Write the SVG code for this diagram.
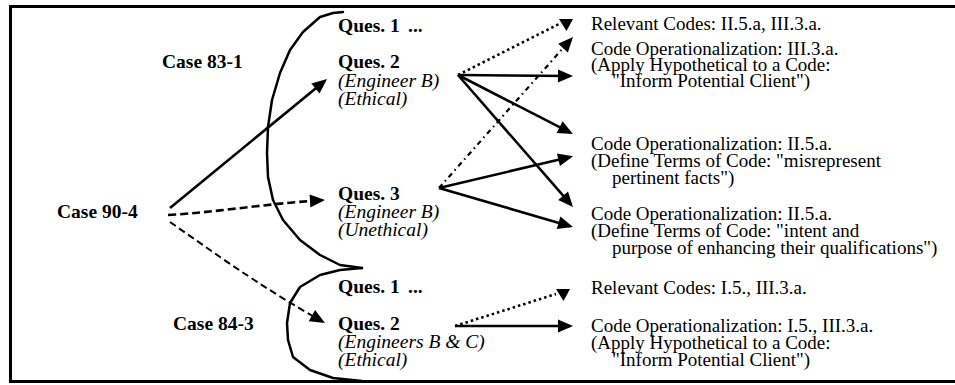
<svg xmlns="http://www.w3.org/2000/svg" width="955" height="385" viewBox="0 0 955 385">
  <style>
    text { font-family: "Liberation Serif", "Times New Roman", serif; fill: #000; }
    .b { font-weight: bold; font-size: 19.5px; }
    .i { font-style: italic; font-size: 19.5px; }
    .r { font-size: 19px; }
    .frame { fill: none; stroke: #000; stroke-width: 3; }
    .brace { fill: none; stroke: #000; stroke-width: 2.5; stroke-linejoin: round; stroke-linecap: round; }
    .solid { fill: none; stroke: #000; stroke-width: 2.6; marker-end: url(#head); }
    .dash { fill: none; stroke: #000; stroke-width: 2.6; stroke-dasharray: 8 4; marker-end: url(#head); }
    .dash-thin { fill: none; stroke: #000; stroke-width: 2; stroke-dasharray: 7 4; marker-end: url(#head); }
    .dot { fill: none; stroke: #000; stroke-width: 2.6; stroke-dasharray: 2.5 3; marker-end: url(#drop); }
    .dashdot { fill: none; stroke: #000; stroke-width: 2.2; stroke-dasharray: 5 4 1.5 4; marker-end: url(#head); }
  </style>
  <defs>
    <marker id="head" markerUnits="userSpaceOnUse" markerWidth="16" markerHeight="14" refX="12" refY="6.5" orient="auto" overflow="visible">
      <path d="M0,0 L15,6.5 L0,13 z" fill="#000"/>
    </marker>
    <marker id="drop" markerUnits="userSpaceOnUse" markerWidth="16" markerHeight="14" refX="0" refY="0" orient="0" overflow="visible">
      <path d="M0,-5 L14,-5 L7.5,7 z" fill="#000"/>
    </marker>
  </defs>

  <!-- outer frame; its right edge runs past the page -->
  <rect class="frame" x="10.5" y="6.5" width="950" height="375"/>

  <!-- case brackets -->
  <g id="bracket-83-1">
    <polyline class="brace" points="343,12 333,13 320,17 303,32 290,50 280,73 272,100 268,127 267,153 268,177 273,200 283,220 300,240 320,255 340,265 362,268"/>
  </g>
  <g id="bracket-84-3">
    <polyline class="brace" points="362,268 340,270 320,275 300,287 290,303 287,323 288,340 293,357 310,370 333,378 362,381"/>
  </g>

  <!-- cases -->
  <g id="case-90-4"><text class="b" x="57" y="218">Case 90-4</text></g>
  <g id="case-83-1"><text class="b" x="162" y="68">Case 83-1</text></g>
  <g id="case-84-3"><text class="b" x="173" y="330">Case 84-3</text></g>

  <!-- questions -->
  <g id="q83-1">
    <text class="b" x="338" y="32">Ques. 1<tspan x="408">...</tspan></text>
  </g>
  <g id="q83-2">
    <text class="b" x="338" y="68">Ques. 2</text>
    <text class="i" x="338" y="86.5">(Engineer B)</text>
    <text class="i" x="338" y="105">(Ethical)</text>
  </g>
  <g id="q90-3">
    <text class="b" x="338" y="200">Ques. 3</text>
    <text class="i" x="338" y="218">(Engineer B)</text>
    <text class="i" x="338" y="236">(Unethical)</text>
  </g>
  <g id="q84-1">
    <text class="b" x="338" y="293">Ques. 1<tspan x="408">...</tspan></text>
  </g>
  <g id="q84-2">
    <text class="b" x="338" y="330">Ques. 2</text>
    <text class="i" x="338" y="348">(Engineers B &amp; C)</text>
    <text class="i" x="338" y="366">(Ethical)</text>
  </g>

  <!-- code references -->
  <g id="codes-83-1">
    <text class="r" x="591" y="30">Relevant Codes: II.5.a, III.3.a.</text>
  </g>
  <g id="op-83-1">
    <text class="r" x="591" y="55">Code Operationalization: III.3.a.</text>
    <text class="r" x="591" y="71">(Apply Hypothetical to a Code:</text>
    <text class="r" x="612" y="87">"Inform Potential Client")</text>
  </g>
  <g id="op-misrepresent">
    <text class="r" x="591" y="150">Code Operationalization: II.5.a.</text>
    <text class="r" x="591" y="167">(Define Terms of Code: "misrepresent</text>
    <text class="r" x="612" y="184">pertinent facts")</text>
  </g>
  <g id="op-intent">
    <text class="r" x="591" y="220">Code Operationalization: II.5.a.</text>
    <text class="r" x="591" y="237">(Define Terms of Code: "intent and</text>
    <text class="r" x="612" y="254">purpose of enhancing their qualifications")</text>
  </g>
  <g id="codes-84-3">
    <text class="r" x="591" y="294">Relevant Codes: I.5., III.3.a.</text>
  </g>
  <g id="op-84-3">
    <text class="r" x="591" y="332">Code Operationalization: I.5., III.3.a.</text>
    <text class="r" x="591" y="349">(Apply Hypothetical to a Code:</text>
    <text class="r" x="612" y="366">"Inform Potential Client")</text>
  </g>

  <!-- connectors -->
  <g id="connectors">
    <path class="solid" d="M170,208 L324.7,80.9"/>
    <path class="dash" d="M168,215 C220,212 262,204 322,200.2"/>
    <path class="dash-thin" d="M170,222 L220,257 Q275,295 322.4,321.5"/>

    <path class="dot" d="M458,75 L559,24"/>
    <path class="solid" d="M458,75 L570,76"/>
    <path class="solid" d="M458,75 L570.3,132.6"/>
    <path class="solid" d="M458,75 L571,204.7"/>

    <path class="dashdot" d="M439,188 L571,39.2"/>
    <path class="solid" d="M439,188 L570.1,157"/>
    <path class="solid" d="M439,188 L570.1,226.2"/>

    <path class="dot" d="M455,326 L556,294"/>
    <path class="solid" d="M455,326 L570,326"/>
  </g>
</svg>
